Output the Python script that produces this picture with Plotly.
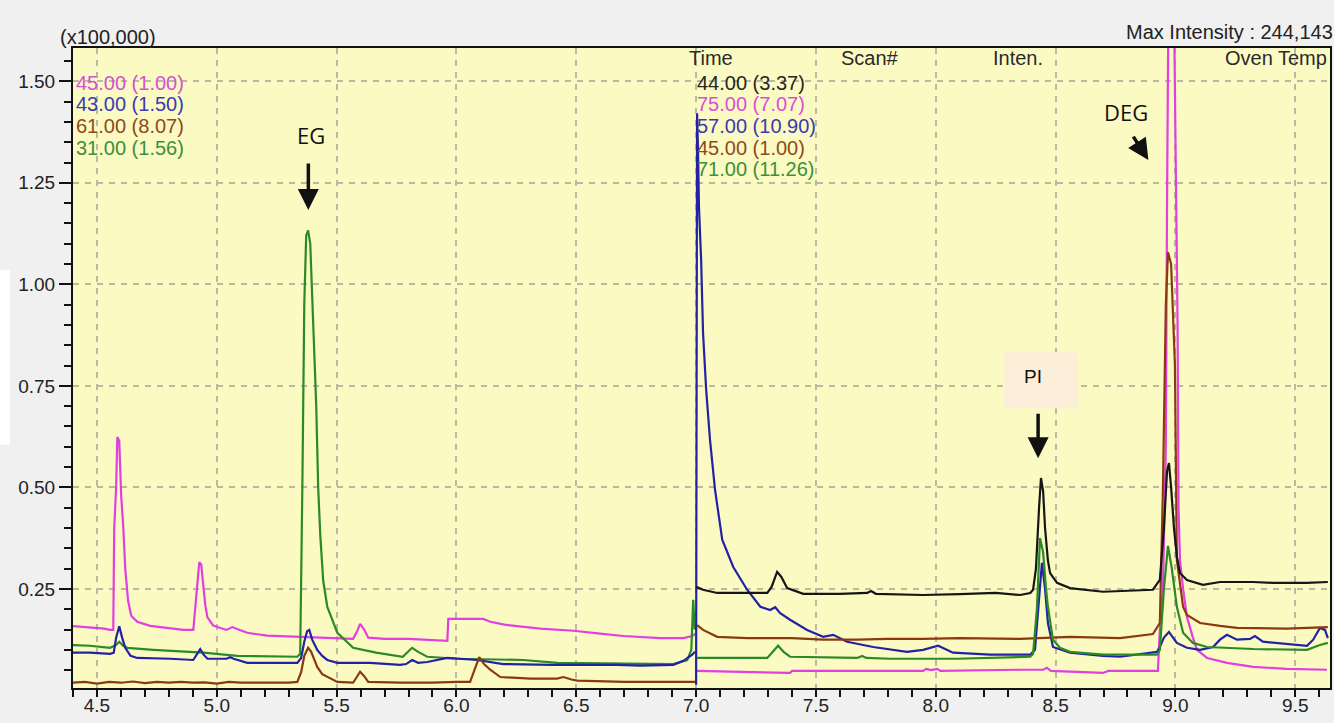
import plotly.graph_objects as go

# ---- Chromatogram data: retention time (min) vs intensity (x100,000) ----
# Window 1 (4.4 - 7.0 min), ions 45 / 43 / 61 / 31
w1_m45_t = [4.389, 4.470, 4.530, 4.555, 4.568, 4.572, 4.580, 4.585, 4.593, 4.601, 4.610, 4.618, 4.630, 4.643,
            4.668, 4.722, 4.764, 4.806, 4.860, 4.902, 4.910, 4.918, 4.927, 4.935, 4.944, 4.952, 4.961, 4.985,
            5.040, 5.065, 5.090, 5.127, 5.210, 5.330, 5.440, 5.569, 5.585, 5.598, 5.615, 5.632, 5.700, 5.800,
            5.962, 5.966, 6.020, 6.112, 6.141, 6.200, 6.350, 6.488, 6.600, 6.696, 6.850, 6.947, 6.984, 6.997]
w1_m45_i = [0.159, 0.156, 0.152, 0.149, 0.149, 0.400, 0.500, 0.624, 0.615, 0.480, 0.400, 0.300, 0.220, 0.184,
            0.169, 0.159, 0.156, 0.154, 0.149, 0.149, 0.200, 0.270, 0.316, 0.310, 0.260, 0.210, 0.180, 0.160,
            0.149, 0.156, 0.150, 0.142, 0.135, 0.132, 0.129, 0.127, 0.145, 0.164, 0.150, 0.130, 0.127, 0.127,
            0.122, 0.176, 0.176, 0.176, 0.169, 0.162, 0.152, 0.147, 0.140, 0.134, 0.129, 0.129, 0.134, 0.140]

w1_m43_t = [4.389, 4.470, 4.555, 4.570, 4.580, 4.593, 4.605, 4.618, 4.640, 4.668, 4.806, 4.902, 4.918, 4.931,
            4.945, 4.961, 5.040, 5.056, 5.070, 5.127, 5.336, 5.352, 5.365, 5.377, 5.386, 5.398, 5.419, 5.440,
            5.461, 5.503, 5.640, 5.765, 5.790, 5.815, 5.840, 5.878, 5.962, 6.040, 6.087, 6.195, 6.400, 6.671,
            6.768, 6.905, 6.947, 6.984, 6.995]
w1_m43_i = [0.093, 0.093, 0.090, 0.093, 0.130, 0.158, 0.130, 0.105, 0.085, 0.080, 0.078, 0.075, 0.090, 0.102,
            0.088, 0.078, 0.078, 0.082, 0.078, 0.068, 0.068, 0.080, 0.120, 0.146, 0.149, 0.125, 0.100, 0.085,
            0.075, 0.068, 0.068, 0.063, 0.065, 0.075, 0.068, 0.070, 0.080, 0.078, 0.075, 0.065, 0.063, 0.063,
            0.061, 0.063, 0.073, 0.088, 0.095]

w1_m61_t = [4.389, 4.450, 4.500, 4.550, 4.600, 4.650, 4.700, 4.750, 4.800, 4.850, 4.900, 4.950, 5.000, 5.050,
            5.100, 5.200, 5.300, 5.336, 5.352, 5.365, 5.381, 5.394, 5.419, 5.440, 5.461, 5.503, 5.569, 5.585,
            5.598, 5.615, 5.632, 5.765, 5.900, 6.000, 6.057, 6.075, 6.095, 6.115, 6.141, 6.183, 6.308, 6.420,
            6.446, 6.480, 6.505, 6.700, 6.850, 6.976, 6.997]
w1_m61_i = [0.019, 0.021, 0.017, 0.021, 0.019, 0.022, 0.018, 0.021, 0.019, 0.021, 0.019, 0.020, 0.017, 0.021,
            0.019, 0.019, 0.019, 0.021, 0.045, 0.085, 0.105, 0.095, 0.058, 0.040, 0.033, 0.021, 0.019, 0.035,
            0.046, 0.035, 0.021, 0.019, 0.019, 0.021, 0.021, 0.050, 0.082, 0.065, 0.051, 0.033, 0.029, 0.029,
            0.033, 0.027, 0.024, 0.021, 0.021, 0.021, 0.021]

w1_m31_t = [4.389, 4.470, 4.555, 4.580, 4.593, 4.610, 4.626, 4.735, 4.944, 5.085, 5.336, 5.348, 5.357, 5.365,
            5.373, 5.381, 5.390, 5.398, 5.407, 5.415, 5.423, 5.432, 5.444, 5.461, 5.503, 5.569, 5.665, 5.776,
            5.815, 5.840, 5.878, 6.004, 6.279, 6.421, 6.905, 6.963, 6.980, 6.988, 6.994, 6.997]
w1_m31_i = [0.112, 0.110, 0.105, 0.112, 0.120, 0.110, 0.105, 0.100, 0.093, 0.085, 0.083, 0.090, 0.500, 0.950,
            1.120, 1.133, 1.100, 0.980, 0.820, 0.700, 0.500, 0.380, 0.270, 0.206, 0.142, 0.105, 0.093, 0.083,
            0.105, 0.095, 0.083, 0.078, 0.075, 0.068, 0.065, 0.075, 0.100, 0.223, 0.150, 0.156]

# Window 2 (7.0 - 9.65 min), ions 44 / 75 / 57 / 45 / 71
w2_m44_t = [7.000, 7.029, 7.088, 7.150, 7.297, 7.315, 7.338, 7.355, 7.380, 7.447, 7.600, 7.714, 7.730, 7.750,
            7.947, 8.100, 8.250, 8.352, 8.394, 8.406, 8.418, 8.431, 8.439, 8.448, 8.456, 8.468, 8.477, 8.506,
            8.560, 8.698, 8.906, 8.935, 8.952, 8.965, 8.973, 8.982, 8.994, 9.006, 9.019, 9.048, 9.115, 9.186,
            9.324, 9.407, 9.549, 9.636]
w2_m44_i = [0.255, 0.248, 0.240, 0.240, 0.240, 0.255, 0.292, 0.280, 0.252, 0.238, 0.238, 0.240, 0.245, 0.238,
            0.235, 0.237, 0.240, 0.235, 0.240, 0.248, 0.300, 0.450, 0.523, 0.490, 0.400, 0.320, 0.289, 0.265,
            0.252, 0.243, 0.248, 0.272, 0.400, 0.540, 0.560, 0.500, 0.400, 0.330, 0.289, 0.272, 0.260, 0.267,
            0.267, 0.265, 0.265, 0.267]

w2_m75_t = [7.004, 7.392, 7.400, 7.947, 7.960, 7.980, 8.006, 8.020, 8.352, 8.448, 8.464, 8.480, 8.698, 8.720,
            8.927, 8.935, 8.948, 8.960, 8.965, 8.971, 8.980, 8.988, 9.000, 9.009, 9.013, 9.019, 9.032, 9.048,
            9.073, 9.090, 9.132, 9.215, 9.324, 9.465, 9.632]
w2_m75_i = [0.048, 0.043, 0.048, 0.048, 0.053, 0.050, 0.053, 0.048, 0.051, 0.051, 0.056, 0.048, 0.043, 0.048,
            0.048, 0.150, 0.250, 0.600, 1.200, 1.800, 2.44143, 2.000, 1.400, 0.900, 0.450, 0.321, 0.250, 0.181,
            0.130, 0.100, 0.080, 0.068, 0.058, 0.053, 0.051]

w2_m57_t = [7.000, 7.004, 7.008, 7.012, 7.021, 7.029, 7.042, 7.058, 7.079, 7.109, 7.155, 7.213, 7.268, 7.309,
            7.330, 7.351, 7.392, 7.463, 7.530, 7.572, 7.630, 7.739, 7.880, 7.947, 8.010, 8.072, 8.227, 8.394,
            8.414, 8.427, 8.443, 8.456, 8.468, 8.489, 8.560, 8.698, 8.769, 8.923, 8.935, 8.952, 8.973, 8.990,
            9.006, 9.048, 9.103, 9.157, 9.186, 9.215, 9.257, 9.311, 9.332, 9.365, 9.465, 9.549, 9.575, 9.603,
            9.624, 9.636]
w2_m57_i = [0.014, 1.421, 1.330, 1.190, 1.060, 0.880, 0.740, 0.617, 0.494, 0.371, 0.304, 0.248, 0.206, 0.198,
            0.205, 0.190, 0.174, 0.149, 0.132, 0.137, 0.120, 0.107, 0.095, 0.100, 0.110, 0.093, 0.088, 0.088,
            0.100, 0.200, 0.314, 0.250, 0.166, 0.107, 0.093, 0.085, 0.083, 0.095, 0.107, 0.130, 0.144, 0.130,
            0.117, 0.105, 0.100, 0.107, 0.125, 0.137, 0.125, 0.127, 0.134, 0.120, 0.115, 0.110, 0.125, 0.154,
            0.149, 0.129]

w2_m45_t = [7.004, 7.017, 7.029, 7.088, 7.213, 7.400, 7.530, 7.672, 7.800, 7.947, 8.100, 8.352, 8.560, 8.769,
            8.906, 8.935, 8.948, 8.960, 8.969, 8.982, 8.998, 9.006, 9.032, 9.048, 9.103, 9.186, 9.257, 9.465,
            9.603, 9.636]
w2_m45_i = [0.161, 0.155, 0.149, 0.132, 0.129, 0.129, 0.125, 0.125, 0.127, 0.127, 0.129, 0.127, 0.132, 0.129,
            0.139, 0.166, 0.500, 0.950, 1.079, 1.050, 0.800, 0.321, 0.206, 0.186, 0.166, 0.159, 0.154, 0.152,
            0.156, 0.156]

w2_m71_t = [7.004, 7.297, 7.320, 7.342, 7.365, 7.392, 7.672, 7.693, 7.710, 7.810, 8.089, 8.394, 8.406, 8.422,
            8.435, 8.448, 8.460, 8.468, 8.489, 8.518, 8.560, 8.698, 8.923, 8.935, 8.952, 8.969, 8.985, 9.006,
            9.032, 9.073, 9.132, 9.324, 9.549, 9.603, 9.636]
w2_m71_i = [0.080, 0.080, 0.095, 0.110, 0.095, 0.083, 0.080, 0.085, 0.080, 0.078, 0.078, 0.083, 0.090, 0.200,
            0.375, 0.340, 0.250, 0.206, 0.125, 0.105, 0.095, 0.088, 0.088, 0.100, 0.250, 0.356, 0.300, 0.206,
            0.142, 0.117, 0.107, 0.102, 0.100, 0.112, 0.117]

# Ion labels (m/z and scale factor)
w1_labels = ["45.00 (1.00)", "43.00 (1.50)", "61.00 (8.07)", "31.00 (1.56)"]
w2_labels = ["44.00 (3.37)", "75.00 (7.07)", "57.00 (10.90)", "45.00 (1.00)", "71.00 (11.26)"]
header_labels = ["Time", "Scan#", "Inten.", "Oven Temp"]

x_ticks = [4.5, 5.0, 5.5, 6.0, 6.5, 7.0, 7.5, 8.0, 8.5, 9.0, 9.5]
y_ticks = [0.25, 0.50, 0.75, 1.00, 1.25, 1.50]

MAGENTA = "#e23fe0"
BLUE = "#2222a6"
BROWN = "#8a3a0e"
GREEN = "#2a8a24"
BLACK = "#161616"

TXT_MAG = "#d650d6"
TXT_BLUE = "#3a3ab2"
TXT_BROWN = "#8d4a1e"
TXT_GREEN = "#3b903b"
TXT_BLACK = "#262626"

FONT = "Liberation Sans, Arial, sans-serif"
TXT_SIZE = 20

fig = go.Figure()

w1 = [(w1_m45_t, w1_m45_i, MAGENTA), (w1_m31_t, w1_m31_i, GREEN),
      (w1_m43_t, w1_m43_i, BLUE), (w1_m61_t, w1_m61_i, BROWN)]
w2 = [(w2_m75_t, w2_m75_i, MAGENTA), (w2_m57_t, w2_m57_i, BLUE), (w2_m45_t, w2_m45_i, BROWN),
      (w2_m71_t, w2_m71_i, GREEN), (w2_m44_t, w2_m44_i, BLACK)]
for t, i, c in w1 + w2:
    fig.add_trace(go.Scatter(x=t, y=i, mode="lines", line=dict(color=c, width=2.2),
                             showlegend=False, hoverinfo="skip"))

annotations = []

# ion label rows
row_y = [1.496, 1.443, 1.389, 1.335, 1.283]
for lab, col, yy in zip(w1_labels, [TXT_MAG, TXT_BLUE, TXT_BROWN, TXT_GREEN], row_y):
    annotations.append(dict(x=4.404, y=yy, xref="x", yref="y", text=lab, showarrow=False,
                            xanchor="left", yanchor="middle",
                            font=dict(family=FONT, size=TXT_SIZE, color=col)))
for lab, col, yy in zip(w2_labels, [TXT_BLACK, TXT_MAG, TXT_BLUE, TXT_BROWN, TXT_GREEN], row_y):
    annotations.append(dict(x=6.994, y=yy, xref="x", yref="y", text=lab, showarrow=False,
                            xanchor="left", yanchor="middle",
                            font=dict(family=FONT, size=TXT_SIZE, color=col)))

# column headers
for lab, xx, anc in zip(header_labels, [6.962, 7.597, 8.232, 9.640], ["left", "left", "left", "right"]):
    annotations.append(dict(x=xx, y=1.557, xref="x", yref="y", text=lab, showarrow=False,
                            xanchor=anc, yanchor="middle",
                            font=dict(family=FONT, size=TXT_SIZE, color="#2a2a2a")))

annotations += [
    dict(x=-0.012, y=1.017, xref="paper", yref="paper", text="(x100,000)", showarrow=False,
         xanchor="left", yanchor="middle", font=dict(family=FONT, size=TXT_SIZE, color="#222222")),
    dict(x=1.004, y=1.025, xref="paper", yref="paper", text="Max Intensity : 244,143", showarrow=False,
         xanchor="right", yanchor="middle", font=dict(family=FONT, size=TXT_SIZE, color="#222222")),
    # peak labels
    dict(x=5.391, y=1.367, xref="x", yref="y", text="EG", showarrow=False,
         font=dict(family="Open Sans, sans-serif", size=22, color="#111111")),
    dict(x=5.382, y=1.183, xref="x", yref="y", text="", showarrow=True, ax=0, ay=-48,
         arrowhead=2, arrowsize=1.2, arrowwidth=3.5, arrowcolor="#111111"),
    dict(x=8.795, y=1.424, xref="x", yref="y", text="DEG", showarrow=False,
         font=dict(family="Open Sans, sans-serif", size=22, color="#111111")),
    dict(x=8.887, y=1.306, xref="x", yref="y", text="", showarrow=True, ax=-16, ay=-25,
         arrowhead=2, arrowsize=1.2, arrowwidth=3.5, arrowcolor="#111111"),
    dict(x=8.406, y=0.774, xref="x", yref="y", text="PI", showarrow=False,
         font=dict(family=FONT, size=19, color="#111111")),
    dict(x=8.427, y=0.572, xref="x", yref="y", text="", showarrow=True, ax=0, ay=-46,
         arrowhead=2, arrowsize=1.2, arrowwidth=3.5, arrowcolor="#111111"),
]

shapes = [
    dict(type="rect", xref="x", yref="y", x0=8.285, x1=8.594, y0=0.695, y1=0.833,
         fillcolor="#fcefd9", line=dict(width=0), layer="above"),
    dict(type="rect", xref="paper", yref="paper", x0=-0.058, x1=-0.050, y0=0.380, y1=0.653,
         fillcolor="#ffffff", line=dict(width=0), layer="below"),
]

axis_font = dict(family=FONT, size=19, color="#222222")

fig.update_layout(
    width=1334, height=723,
    margin=dict(l=73, r=4, t=48, b=35),
    paper_bgcolor="#f0f0f0",
    plot_bgcolor="#fcfac3",
    annotations=annotations,
    shapes=shapes,
    showlegend=False,
    xaxis=dict(range=[4.40, 9.645], tickvals=x_ticks, tickformat=".1f", automargin=False,
               ticks="outside", ticklen=7, tickwidth=2, tickcolor="#111111",
               ticklabelstandoff=-8,
               showline=True, linecolor="#111111", linewidth=2, mirror=True,
               showgrid=True, gridcolor="#bcb9a2", gridwidth=1.5, griddash="6px,6px",
               zeroline=False, tickfont=axis_font,
               minor=dict(dtick=0.1, tick0=0, ticks="outside", ticklen=7, tickwidth=2,
                          tickcolor="#111111", showgrid=False)),
    yaxis=dict(range=[0.006, 1.582], tickvals=y_ticks, tickformat=".2f", automargin=False,
               ticks="outside", ticklen=12, tickwidth=2, tickcolor="#111111",
               showline=True, linecolor="#111111", linewidth=2, mirror=True,
               showgrid=True, gridcolor="#bcb9a2", gridwidth=1.5, griddash="6px,6px",
               zeroline=False, tickfont=axis_font,
               minor=dict(dtick=0.05, tick0=0, ticks="outside", ticklen=7, tickwidth=2,
                          tickcolor="#111111", showgrid=False)),
)

fig.write_html("out.html")
